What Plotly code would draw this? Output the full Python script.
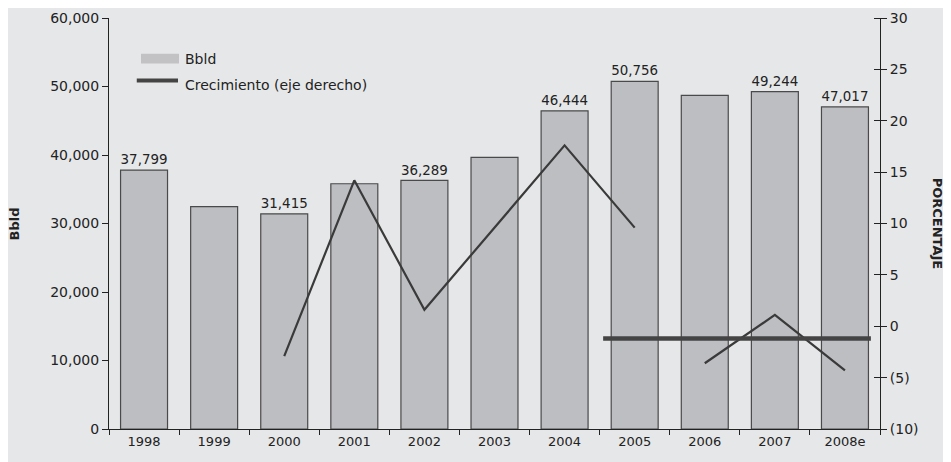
import plotly.graph_objects as go

anios = ["1998", "1999", "2000", "2001", "2002", "2003", "2004", "2005", "2006", "2007", "2008e"]
bbld = [37799, 32460, 31415, 35800, 36289, 39650, 46444, 50756, 48700, 49244, 47017]
con_etiqueta = [True, False, True, False, True, False, True, True, False, True, True]
crecimiento = [None, None, -2.9, 14.2, 1.6, 9.6, 17.6, 9.6, -3.6, 1.1, -4.3]
corte = 8  # the line is broken between 2005 and 2006

# stray thick segment in the original chart (x in category units, y in %)
segmento_x = [6.55, 10.37]
segmento_y = [-1.2, -1.2]

pct_vals = [-10, -5, 0, 5, 10, 15, 20, 25, 30]
pct_text = ["(10)", "(5)", "0", "5", "10", "15", "20", "25", "30"]

pos = list(range(len(anios)))
bar_text = [f"{v:,}" if e else "" for v, e in zip(bbld, con_etiqueta)]

line_x = pos[:corte] + [None] + pos[corte:]
line_y = crecimiento[:corte] + [None] + crecimiento[corte:]

BAR_FILL = "#bdbec2"
LINE_COL = "#3a3a3a"

fig = go.Figure()
fig.add_trace(go.Bar(
    x=pos, y=bbld, name="Bbld",
    width=0.67,
    marker=dict(color=BAR_FILL, line=dict(color="#4a4a4a", width=1.2)),
    text=bar_text, textposition="outside", cliponaxis=False,
    textfont=dict(size=14, color="#222"),
    showlegend=False,
))
fig.add_trace(go.Scatter(
    x=line_x, y=line_y, name="Crecimiento (eje derecho)",
    mode="lines", yaxis="y2", connectgaps=False,
    line=dict(color=LINE_COL, width=2.2), showlegend=False,
))
fig.add_trace(go.Scatter(
    x=segmento_x, y=segmento_y, mode="lines", yaxis="y2",
    line=dict(color="#444", width=4.5), showlegend=False, hoverinfo="skip",
))

# hand-drawn legend (wide swatches like the original)
fig.add_shape(type="rect", xref="paper", yref="paper",
              x0=0.0415, x1=0.0908, y0=0.889, y1=0.913,
              fillcolor="#c2c2c4", line=dict(width=0))
fig.add_shape(type="line", xref="paper", yref="paper",
              x0=0.036, x1=0.0895, y0=0.848, y1=0.848,
              line=dict(color="#444", width=4))
leyenda = [("Bbld", 0.901), ("Crecimiento (eje derecho)", 0.836)]

annotations = [dict(text=t, xref="paper", yref="paper", x=0.096, y=y,
                    xanchor="left", yanchor="middle", showarrow=False,
                    font=dict(size=14, color="#222")) for t, y in leyenda]
annotations.append(dict(
    text="<b>PORCENTAJE</b>", xref="paper", yref="paper",
    x=1.075, y=0.5, xanchor="center", yanchor="middle", showarrow=False, textangle=90,
    font=dict(size=13, color="#222"),
))
annotations.append(dict(
    text="<b>Bbld</b>", xref="paper", yref="paper",
    x=-0.122, y=0.5, xanchor="center", yanchor="middle", showarrow=False, textangle=-90,
    font=dict(size=13, color="#222"),
))

# page body adds an 8px margin, so the figure is sized/offset to fit the window
fig.update_layout(
    width=943, height=454,
    paper_bgcolor="#e6e7e9", plot_bgcolor="#e6e7e9",
    margin=dict(l=101, r=71, t=10, b=33, autoexpand=False),
    font=dict(family="DejaVu Sans", size=13, color="#222"),
    showlegend=False,
    xaxis=dict(
        range=[-0.5, 10.5], tickvals=pos, ticktext=anios,
        showgrid=False, zeroline=False, showline=True, linecolor="#222", linewidth=1,
        ticks="", tickfont=dict(size=13),
        minor=dict(tick0=-0.5, dtick=1, ticks="outside", ticklen=5, tickcolor="#222", showgrid=False),
    ),
    yaxis=dict(
        range=[0, 60000], dtick=10000, tickformat=",",
        showgrid=False, zeroline=False, showline=True, linecolor="#222", linewidth=1,
        ticks="outside", ticklen=6, tickcolor="#222", tickfont=dict(size=14),
    ),
    yaxis2=dict(
        range=[-10, 30], overlaying="y", side="right",
        tickvals=pct_vals, ticktext=pct_text,
        showgrid=False, zeroline=False, showline=True, linecolor="#222", linewidth=1,
        ticks="outside", ticklen=6, tickcolor="#222", tickfont=dict(size=14),
        minor=dict(tick0=0, dtick=5, ticks="inside", ticklen=6, tickcolor="#222", showgrid=False),
    ),
    annotations=annotations,
)

fig.write_html("out.html")
